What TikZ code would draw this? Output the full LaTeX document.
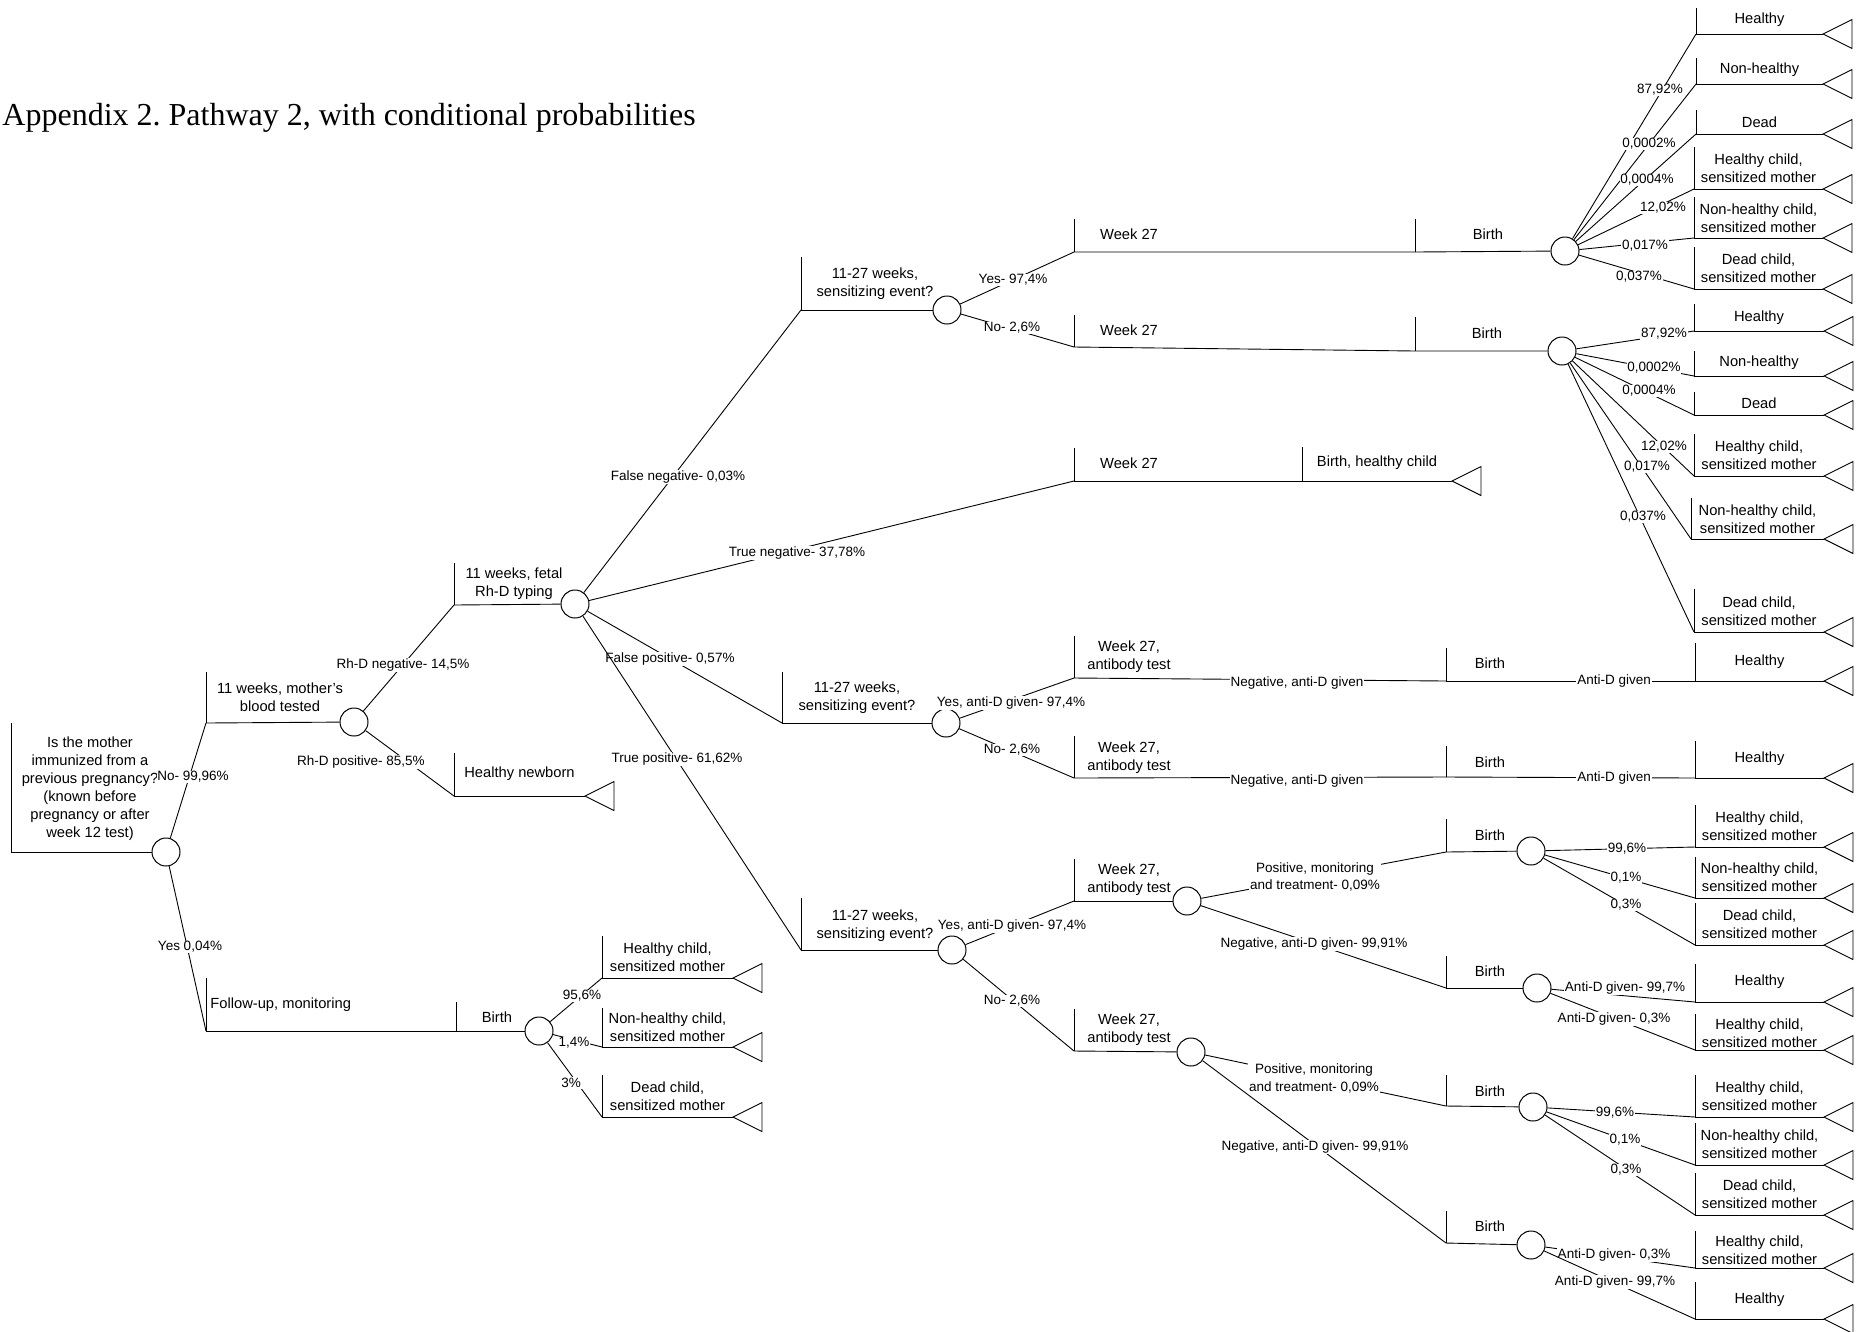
\documentclass[tikz,border=0pt]{standalone}
\usepackage{fontspec}
\setmainfont{Liberation Sans}
\newfontfamily\titlefont{Liberation Serif}
\newcommand\mainf{\fontsize{14.7}{18}\selectfont}
\newcommand\smallf{\fontsize{13.5}{17.5}\selectfont}
\frenchspacing
\tikzset{
  chance/.style={circle, draw, line width=1pt, minimum size=28pt, inner sep=0pt, fill=white},
  boxlab/.style={font=\mainf, align=center, inner sep=0pt},
  elab/.style={font=\smallf, align=center, fill=white, inner sep=0.8pt},
}
% name, corner x, corner y, top y, tip x, text y, text
\newcommand\tleaf[7]{%
  \coordinate (#1) at (#2,#3);
  \coordinate (#1t) at (#5,#3);
  \draw (#2,#4) -- (#1) -- (#1t);
  \draw[line join=miter] (#1t) -- ++(29,-14.5) -- ++(0,29) -- cycle;
  \node[boxlab] (#1x) at ({(#2+#5)/2},#6) {#7};
}
% name, corner x, corner y, top y
\newcommand\decbox[4]{%
  \coordinate (#1) at (#2,#3);
  \draw (#2,#4) -- (#1);
}
\begin{document}
\begin{tikzpicture}[x=1pt,y=-1pt,line width=0.9pt]
\useasboundingbox[fill=white] (0,0) rectangle (1862,1331);
\node[anchor=base west, font=\titlefont\fontsize{32}{38}\selectfont, inner sep=0pt] (title) at (2,125) {Appendix 2. Pathway 2, with conditional probabilities};

% chance nodes
\node[chance] (c0) at (166,852) {};
\node[chance] (c1) at (354,722) {};
\node[chance] (c2) at (539,1031) {};
\node[chance] (c3) at (575,604) {};
\node[chance] (c4) at (947,310) {};
\node[chance] (c5) at (946,723) {};
\node[chance] (c6) at (952,950) {};
\node[chance] (c7) at (1565,251) {};
\node[chance] (c8) at (1562,351) {};
\node[chance] (c9) at (1187,901) {};
\node[chance] (c10) at (1191,1052) {};
\node[chance] (c11) at (1531,851) {};
\node[chance] (c12) at (1537,988) {};
\node[chance] (c13) at (1533,1107) {};
\node[chance] (c14) at (1531,1245) {};

% root
\coordinate (R0) at (11,852);
\draw (11,723) -- (R0) -- (c0);
\node[boxlab] (t0) at (90,789) {Is the mother\\immunized from a\\previous pregnancy?\\(known before\\pregnancy or after\\week 12 test)};

% A: mother's blood tested
\decbox{A}{206}{723}{672}
\draw (c0) -- (A);
\node[elab] at (193,777) {No- 99,96\%};
\draw (A) -- (c1);
\node[boxlab] at (280,697.5) {11 weeks, mother{\char"0027}s\\blood tested};

% B: follow-up
\decbox{B}{206}{1031}{978}
\draw (c0) -- (B);
\node[elab] at (190,947) {Yes 0,04\%};
\coordinate (Bd) at (456,1031);
\draw (B) -- (Bd) -- (c2);
\draw (456,1002) -- (Bd);
\node[boxlab, anchor=west] at (210,1005) {Follow-up, monitoring};
\node[boxlab] at (497,1017) {Birth};

\tleaf{B1}{602}{978}{936}{733}{957}{Healthy child,\\sensitized mother}
\draw (c2) -- (B1); \node[elab] at (582,996) {95,6\%};
\tleaf{B2}{602}{1047}{1008}{733}{1027.5}{Non-healthy child,\\sensitized mother}
\draw (c2) -- (B2); \node[elab] at (574,1043) {1,4\%};
\tleaf{B3}{602}{1117}{1075}{733}{1096}{Dead child,\\sensitized mother}
\draw (c2) -- (B3); \node[elab] at (571,1083) {3\%};

% C: fetal typing
\decbox{C}{454}{605}{563}
\draw (c1) -- (C); \node[elab] at (403,665) {Rh-D negative- 14,5\%};
\draw (C) -- (c3);
\node[boxlab] at (514,584) {11 weeks, fetal\\Rh-D typing};

% D: healthy newborn
\tleaf{D}{454}{796}{753}{585}{774}{Healthy newborn}
\draw (c1) -- (D); \node[elab] at (361,762) {Rh-D positive- 85,5\%};

% E: false negative
\decbox{E}{801}{310}{257}
\draw (c3) -- (E); \node[elab] at (678,477) {False negative- 0,03\%};
\draw (E) -- (c4);
\node[boxlab] at (875,284) {11-27 weeks,\\sensitizing event?};

% F: true negative
\decbox{F}{1074}{481}{448}
\draw (c3) -- (F); \node[elab] at (797,553) {True negative- 37,78\%};
\tleaf{F2}{1302}{481}{447}{1452}{463}{Birth, healthy child}
\draw (F) -- (F2);
\node[boxlab] at (1129,463) {Week 27};

% G: false positive
\decbox{G}{782}{723}{672}
\draw (c3) -- (G); \node[elab] at (670,659) {False positive- 0,57\%};
\draw (G) -- (c5);
\node[boxlab] at (857,697.5) {11-27 weeks,\\sensitizing event?};

% H: true positive
\decbox{H}{801}{950}{898}
\draw (c3) -- (H); \node[elab] at (677,759) {True positive- 61,62\%};
\draw (H) -- (c6);
\node[boxlab] at (875,925.5) {11-27 weeks,\\sensitizing event?};

% I: yes sensitizing (false negative)
\decbox{I}{1074}{252}{219}
\draw (c4) -- (I); \node[elab] at (1013,280) {Yes- 97,4\%};
\coordinate (Id) at (1415,252);
\draw (I) -- (Id) -- (c7);
\draw (1415,219) -- (Id);
\node[boxlab] at (1129,234) {Week 27};
\node[boxlab] at (1488,234) {Birth};

% J: no sensitizing (false negative)
\decbox{J}{1074}{347}{315}
\draw (c4) -- (J); \node[elab] at (1012,328) {No- 2,6\%};
\coordinate (Jd) at (1415,351);
\draw (J) -- (Jd) -- (c8);
\draw (1415,317) -- (Jd);
\node[boxlab] at (1129,330) {Week 27};
\node[boxlab] at (1487,333) {Birth};

% c7 fan
\tleaf{I1}{1696}{34}{8}{1823}{20}{Healthy}
\draw (c7) -- (I1); \node[elab] at (1660,90) {87,92\%};
\tleaf{I2}{1696}{84}{58}{1823}{70}{Non-healthy}
\draw (c7) -- (I2); \node[elab] at (1649,144) {0,0002\%};
\tleaf{I3}{1696}{134}{110}{1823}{122}{Dead}
\draw (c7) -- (I3); \node[elab] at (1647,180) {0,0004\%};
\tleaf{I4}{1694}{189}{147}{1823}{168.5}{Healthy child,\\sensitized mother}
\draw (c7) -- (I4); \node[elab] at (1663,208) {12,02\%};
\tleaf{I5}{1694}{238}{197}{1823}{218.5}{Non-healthy child,\\sensitized mother}
\draw (c7) -- (I5); \node[elab] at (1645,246) {0,017\%};
\tleaf{I6}{1694}{289}{247}{1823}{268.5}{Dead child,\\sensitized mother}
\draw (c7) -- (I6); \node[elab] at (1639,277) {0,037\%};

% c8 fan
\tleaf{J1}{1694}{331}{304}{1824}{318}{Healthy}
\draw (c8) -- (J1); \node[elab] at (1664,334) {87,92\%};
\tleaf{J2}{1694}{376}{351}{1824}{363}{Non-healthy}
\draw (c8) -- (J2); \node[elab] at (1654,368) {0,0002\%};
\tleaf{J3}{1694}{415}{392}{1824}{403}{Dead}
\draw (c8) -- (J3); \node[elab] at (1649,391) {0,0004\%};
\tleaf{J4}{1694}{476}{434}{1824}{455}{Healthy child,\\sensitized mother}
\draw (c8) -- (J4); \node[elab] at (1664,447) {12,02\%};
\tleaf{J5}{1691}{539}{498}{1824}{519}{Non-healthy child,\\sensitized mother}
\draw (c8) -- (J5); \node[elab] at (1647,467) {0,017\%};
\tleaf{J6}{1694}{632}{589}{1824}{611}{Dead child,\\sensitized mother}
\draw (c8) -- (J6); \node[elab] at (1643,517) {0,037\%};

% K: false positive, yes
\decbox{K}{1074}{678}{636}
\draw (c5) -- (K); \node[elab] at (1011,703) {Yes, anti-D given- 97,4\%};
\node[boxlab] at (1129,657) {Week 27,\\antibody test};
\coordinate (Kb) at (1446,681);
\draw (K) -- (Kb); \draw (1446,648) -- (Kb);
\node[elab] at (1297,683) {Negative, anti-D given};
\node[boxlab] at (1490,663) {Birth};
\tleaf{K1}{1695}{681}{643}{1824}{662}{Healthy}
\draw (Kb) -- (K1); \node[elab] at (1614,681) {Anti-D given};

% L: false positive, no
\decbox{L}{1074}{778}{736}
\draw (c5) -- (L); \node[elab] at (1012,750) {No- 2,6\%};
\node[boxlab] at (1129,757.5) {Week 27,\\antibody test};
\coordinate (Lb) at (1446,777);
\draw (L) -- (Lb); \draw (1446,746) -- (Lb);
\node[elab] at (1297,781) {Negative, anti-D given};
\node[boxlab] at (1490,762) {Birth};
\tleaf{L1}{1695}{778}{741}{1824}{759}{Healthy}
\draw (Lb) -- (L1); \node[elab] at (1614,778) {Anti-D given};

% M: true positive, yes
\decbox{M}{1074}{901}{859}
\draw (c6) -- (M); \node[elab] at (1012,926) {Yes, anti-D given- 97,4\%};
\draw (M) -- (c9);
\node[boxlab] at (1129,880) {Week 27,\\antibody test};

% N: true positive, no
\decbox{N}{1074}{1051}{1009}
\draw (c6) -- (N); \node[elab] at (1012,1001) {No- 2,6\%};
\draw (N) -- (c10);
\node[boxlab] at (1129,1030) {Week 27,\\antibody test};

% O, P from c9
\decbox{O}{1446}{852}{819}
\draw (c9) -- (O); \node[elab] at (1315,877) {Positive, monitoring\\and treatment- 0,09\%};
\draw (O) -- (c11);
\node[boxlab] at (1490,835) {Birth};
\decbox{P}{1446}{988}{956}
\draw (c9) -- (P); \node[elab] at (1314,944) {Negative, anti-D given- 99,91\%};
\draw (P) -- (c12);
\node[boxlab] at (1490,971) {Birth};

\tleaf{O1}{1695}{847}{805}{1824}{826}{Healthy child,\\sensitized mother}
\draw (c11) -- (O1); \node[elab] at (1627,849) {99,6\%};
\tleaf{O2}{1695}{898}{857}{1824}{877.5}{Non-healthy child,\\sensitized mother}
\draw (c11) -- (O2); \node[elab] at (1626,878) {0,1\%};
\tleaf{O3}{1695}{945}{903}{1824}{924}{Dead child,\\sensitized mother}
\draw (c11) -- (O3); \node[elab] at (1626,905) {0,3\%};

\tleaf{P1}{1695}{1002}{964}{1824}{982}{Healthy}
\draw (c12) -- (P1); \node[elab] at (1625,988) {Anti-D given- 99,7\%};
\tleaf{P2}{1695}{1050}{1014}{1824}{1033}{Healthy child,\\sensitized mother}
\draw (c12) -- (P2); \node[elab] at (1614,1019) {Anti-D given- 0,3\%};

% Q, R from c10
\decbox{Q}{1446}{1106}{1075}
\draw (c10) -- (Q); \node[elab] at (1314,1078.5) {Positive, monitoring\\and treatment- 0,09\%};
\draw (Q) -- (c13);
\node[boxlab] at (1490,1091) {Birth};
\decbox{R}{1446}{1243}{1211}
\draw (c10) -- (R); \node[elab] at (1315,1147) {Negative, anti-D given- 99,91\%};
\draw (R) -- (c14);
\node[boxlab] at (1490,1226) {Birth};

\tleaf{Q1}{1695}{1117}{1075}{1824}{1096}{Healthy child,\\sensitized mother}
\draw (c13) -- (Q1); \node[elab] at (1615,1113) {99,6\%};
\tleaf{Q2}{1695}{1165}{1123}{1824}{1144}{Non-healthy child,\\sensitized mother}
\draw (c13) -- (Q2); \node[elab] at (1625,1140) {0,1\%};
\tleaf{Q3}{1695}{1215}{1173}{1824}{1194}{Dead child,\\sensitized mother}
\draw (c13) -- (Q3); \node[elab] at (1626,1170) {0,3\%};

\tleaf{R1}{1695}{1268}{1231}{1824}{1250}{Healthy child,\\sensitized mother}
\draw (c14) -- (R1); \node[elab] at (1614,1255) {Anti-D given- 0,3\%};
\tleaf{R2}{1695}{1319}{1282}{1824}{1300}{Healthy}
\draw (c14) -- (R2); \node[elab] at (1615,1282) {Anti-D given- 99,7\%};
\end{tikzpicture}
\end{document}
